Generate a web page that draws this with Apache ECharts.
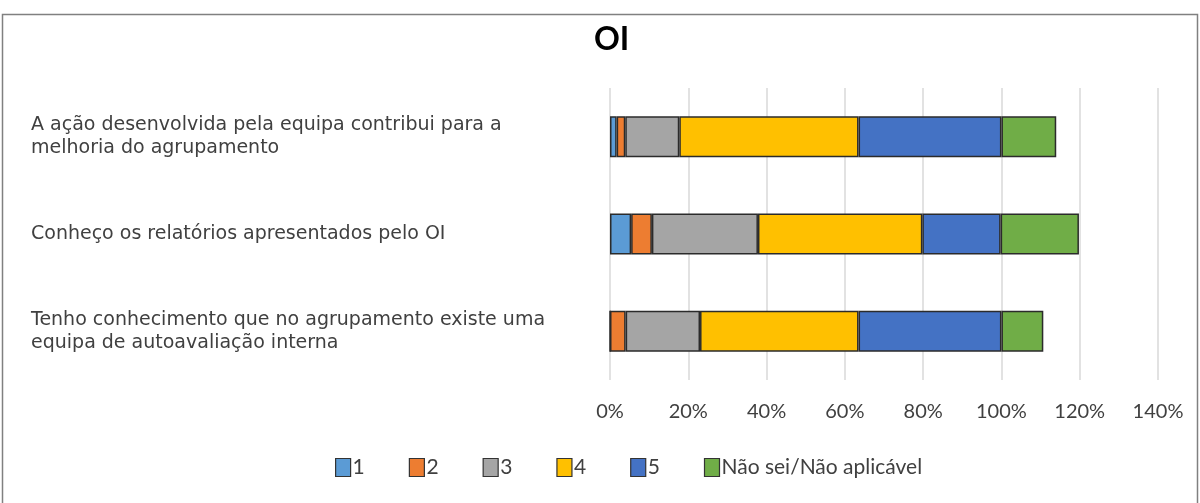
<!DOCTYPE html>
<html><head><meta charset="utf-8">
<script src="https://cdn.jsdelivr.net/npm/echarts@6/dist/echarts.min.js"></script>
<style>html,body{margin:0;padding:0;background:#fff}#c{width:1200px;height:503px}</style>
</head><body><div id="c"></div>
<script>
const categories = [
  "A ação desenvolvida pela equipa contribui para a\nmelhoria do agrupamento",
  "Conheço os relatórios apresentados pelo OI",
  "Tenho conhecimento que no agrupamento existe uma\nequipa de autoavaliação interna"
];
const seriesNames = ["1", "2", "3", "4", "5", "Não sei/Não aplicável"];
const s1 = [1.7, 5.4, 0];
const s2 = [2.2, 5.3, 4.0];
const s3 = [13.8, 27.1, 19.0];
const s4 = [45.8, 42.0, 40.5];
const s5 = [36.5, 20.0, 36.5];
const s6 = [14.0, 20.0, 10.7];
const xTicks = [0, 20, 40, 60, 80, 100, 120, 140];
const colors = ["#5B9BD5", "#ED7D31", "#A5A5A5", "#FFC000", "#4472C4", "#70AD47"];

const allData = [s1, s2, s3, s4, s5, s6];
const chart = echarts.init(document.getElementById('c'));
chart.setOption({
  animation: false,
  title: {
    text: 'OI', left: 589, top: 19,
    textStyle: {fontFamily: 'Lato', fontWeight: 'bold', fontSize: 32, color: '#000'}
  },
  graphic: [{
    type: 'rect', shape: {x: 2.5, y: 14.5, width: 1195, height: 520},
    style: {fill: 'none', stroke: '#808080', lineWidth: 1.5}, silent: true
  }],
  legend: {
    bottom: 20, left: 330, itemWidth: 15, itemHeight: 18, itemGap: 44,
    icon: 'rect',
    textStyle: {fontFamily: 'Lato', fontSize: 21, color: '#404040', padding: [0,0,0,-3]},
    itemStyle: {borderColor: '#333', borderWidth: 1.2},
    data: seriesNames
  },
  grid: {left: 610, right: 42, top: 88, bottom: 123},
  xAxis: {
    type: 'value', min: xTicks[0], max: xTicks[xTicks.length - 1], interval: 20,
    axisLine: {show: false}, axisTick: {show: false},
    splitLine: {lineStyle: {color: '#d9d9d9', width: 1.5}},
    axisLabel: {formatter: v => v + '%', fontFamily: 'Lato', fontSize: 20, color: '#404040', margin: 22}
  },
  yAxis: {
    type: 'category', data: categories, inverse: true,
    axisLine: {show: false}, axisTick: {show: false},
    axisLabel: {align: 'left', margin: 579, fontFamily: 'DejaVu Sans', fontSize: 19, color: '#404040', lineHeight: 23}
  },
  series: seriesNames.map((n, i) => ({
    name: n, type: 'bar', stack: 'total', barWidth: 41,
    itemStyle: {color: colors[i], borderColor: '#2b2b2b', borderWidth: 1.5},
    data: allData[i]
  }))
});
</script></body></html>
